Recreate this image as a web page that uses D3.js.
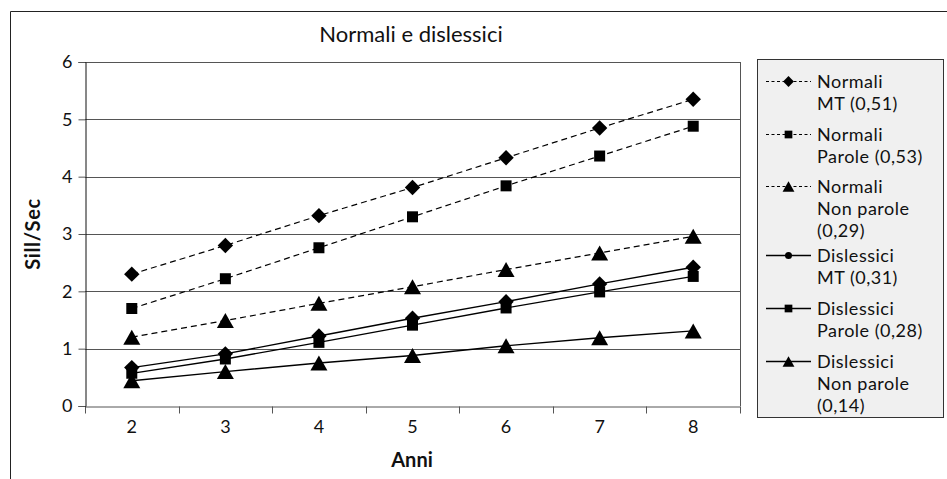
<!DOCTYPE html>
<html>
<head>
<meta charset="utf-8">
<script src="https://cdn.jsdelivr.net/npm/d3@7"></script>
<style>
  html, body { margin: 0; padding: 0; background: #fff; }
  svg { display: block; font-family: Lato, "Noto Sans", sans-serif; }
</style>
</head>
<body>
<svg id="chart" width="947" height="479"></svg>
<script>
const anni = ["2", "3", "4", "5", "6", "7", "8"];
const yTicks = [0, 1, 2, 3, 4, 5, 6];
const normaliMT = [2.30, 2.80, 3.32, 3.81, 4.33, 4.85, 5.35];
const normaliParole = [1.70, 2.22, 2.76, 3.30, 3.84, 4.36, 4.88];
const normaliNonParole = [1.20, 1.49, 1.79, 2.08, 2.38, 2.67, 2.96];
const dislessiciMT = [0.67, 0.91, 1.22, 1.53, 1.82, 2.13, 2.42];
const dislessiciParole = [0.57, 0.82, 1.11, 1.41, 1.71, 1.99, 2.26];
const dislessiciNonParole = [0.44, 0.60, 0.75, 0.88, 1.05, 1.19, 1.31];
const legendLabels = [
  ["Normali", "MT (0,51)"],
  ["Normali", "Parole (0,53)"],
  ["Normali", "Non parole", "(0,29)"],
  ["Dislessici", "MT (0,31)"],
  ["Dislessici", "Parole (0,28)"],
  ["Dislessici", "Non parole", "(0,14)"]
];
const titleText = "Normali e dislessici";
const xTitle = "Anni";
const yTitle = "Sill/Sec";

const series = [
  { values: normaliMT, dashed: true, marker: "diamond", legendMarker: "diamond" },
  { values: normaliParole, dashed: true, marker: "square", legendMarker: "square" },
  { values: normaliNonParole, dashed: true, marker: "triangle", legendMarker: "triangle" },
  { values: dislessiciMT, dashed: false, marker: "diamond", legendMarker: "circle" },
  { values: dislessiciParole, dashed: false, marker: "square", legendMarker: "square" },
  { values: dislessiciNonParole, dashed: false, marker: "triangle", legendMarker: "triangle" }
];

const svg = d3.select("#chart");
const pLeft = 85, pRight = 740, pTop = 62, pBottom = 406;
const x = d3.scaleBand().domain(anni).range([pLeft, pRight]);
const y = d3.scaleLinear().domain([0, 6]).range([pBottom, pTop]);

// outer frame
svg.append("path")
  .attr("d", "M10.5,479 L10.5,11.5 L960,11.5")
  .attr("fill", "none").attr("stroke", "#222").attr("stroke-width", 1);

// title
svg.append("text").attr("x", 411).attr("y", 42)
  .attr("text-anchor", "middle").attr("font-size", 22).attr("fill", "#111")
  .text(titleText);

// gridlines
svg.append("g").selectAll("line").data(yTicks.filter(d => d > 0)).join("line")
  .attr("x1", pLeft).attr("x2", pRight)
  .attr("y1", d => Math.round(y(d)) + 0.5).attr("y2", d => Math.round(y(d)) + 0.5)
  .attr("stroke", "#555").attr("stroke-width", 1);
// right border of plot
svg.append("line").attr("x1", pRight + 0.5).attr("x2", pRight + 0.5)
  .attr("y1", y(6)).attr("y2", y(0)).attr("stroke", "#555");

// x axis: labels at centres, ticks at category boundaries
const xAxis = svg.append("g").attr("transform", `translate(0,${Math.round(y(0)) + 0.5})`)
  .call(d3.axisBottom(x).tickSize(0).tickPadding(14));
xAxis.select(".domain").attr("stroke", "#555");
xAxis.selectAll("text").attr("font-size", 18).attr("fill", "#111").attr("font-family", "Lato, sans-serif");
const bounds = anni.map(d => x(d)).concat([x(anni[anni.length - 1]) + x.bandwidth()]);
xAxis.selectAll("line.bt").data(bounds).join("line").attr("class", "bt")
  .attr("x1", d => Math.round(d) + 0.5).attr("x2", d => Math.round(d) + 0.5)
  .attr("y1", 0).attr("y2", 7).attr("stroke", "#555");

// y axis
const yAxis = svg.append("g").attr("transform", `translate(${pLeft + 0.5},0)`)
  .call(d3.axisLeft(y).tickValues(yTicks).tickSize(7).tickPadding(6).tickFormat(d3.format("d")));
yAxis.select(".domain").attr("stroke", "#111");
yAxis.selectAll(".tick line").attr("stroke", "#555");
yAxis.selectAll("text").attr("font-size", 18).attr("fill", "#111").attr("font-family", "Lato, sans-serif");

// axis titles
svg.append("text").attr("x", 412).attr("y", 467).attr("text-anchor", "middle")
  .attr("font-size", 20).attr("font-weight", "bold").attr("fill", "#111").text(xTitle);
svg.append("text").attr("transform", `translate(40,${(y(0) + y(6)) / 2}) rotate(-90)`)
  .attr("text-anchor", "middle").attr("font-size", 20).attr("font-weight", "bold")
  .attr("letter-spacing", 0.6)
  .attr("fill", "#111").text(yTitle);

function markerPath(type, cx, cy, s) {
  const p = d3.path();
  if (type === "diamond") {
    const r = 7.7 * s;
    p.moveTo(cx, cy - r); p.lineTo(cx + r, cy); p.lineTo(cx, cy + r); p.lineTo(cx - r, cy); p.closePath();
  } else if (type === "square") {
    const h = 5.5 * s;
    p.rect(cx - h, cy - h, 2 * h, 2 * h);
  } else if (type === "triangle") {
    const w = 8.5 * s, hh = 7.5 * s;
    p.moveTo(cx, cy - hh); p.lineTo(cx + w, cy + hh); p.lineTo(cx - w, cy + hh); p.closePath();
  } else if (type === "circle") {
    const r = 5 * s;
    p.moveTo(cx + r, cy); p.arc(cx, cy, r, 0, 2 * Math.PI);
  }
  return p.toString();
}

const cx = d => x(d) + x.bandwidth() / 2;
const line = d3.line().x(d => cx(d.k)).y(d => y(d.v));

series.forEach(s => {
  const pts = anni.map((k, i) => ({ k, v: s.values[i] }));
  const g = svg.append("g");
  g.append("path").attr("d", line(pts)).attr("fill", "none").attr("stroke", "#000")
    .attr("stroke-width", s.dashed ? 1.2 : 1.4)
    .attr("stroke-dasharray", s.dashed ? "6,4" : null);
  g.selectAll("path.m").data(pts).join("path").attr("class", "m")
    .attr("d", d => markerPath(s.marker, cx(d.k), y(d.v), 1))
    .attr("fill", "#000");
});

// legend
const lg = svg.append("g");
lg.append("rect").attr("x", 757.5).attr("y", 59.5).attr("width", 186).attr("height", 358)
  .attr("fill", "#f0f0f0").attr("stroke", "#333");
const baselines = [88, 141, 193, 262, 315, 368];
const lineOffsets = [0, 22, 44];
series.forEach((s, i) => {
  const b = baselines[i];
  const my = b - 6.5;
  lg.append("line").attr("x1", 766).attr("x2", 811).attr("y1", my).attr("y2", my)
    .attr("stroke", "#000").attr("stroke-width", s.dashed ? 1 : 1.4)
    .attr("stroke-dasharray", s.dashed ? "3,2.5" : null);
  lg.append("path").attr("d", markerPath(s.legendMarker, 788.5, my, 0.7)).attr("fill", "#000");
  legendLabels[i].forEach((t, j) => {
    lg.append("text").attr("x", 817).attr("y", b + lineOffsets[j])
      .attr("font-size", 18).attr("letter-spacing", 0.5).attr("fill", "#111").text(t);
  });
});
</script>
</body>
</html>
